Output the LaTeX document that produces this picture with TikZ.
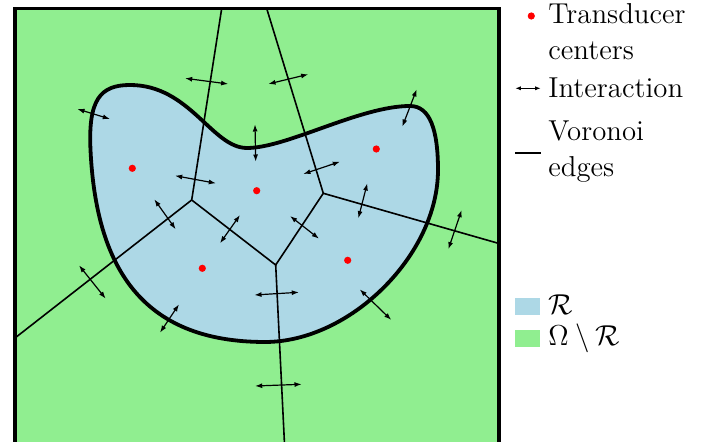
\documentclass[tikz,border=0pt]{standalone}
\usetikzlibrary{arrows.meta}
\definecolor{regblue}{HTML}{ADD8E6}
\definecolor{restgreen}{HTML}{90EE90}
\tikzset{
  border/.style={line width=1.8pt},
  bound/.style={line width=1.9pt, line join=round},
  vor/.style={line width=0.8pt},
  inter/.style={line width=0.6pt, {Latex[length=3.6pt,width=2.5pt]}-{Latex[length=3.6pt,width=2.5pt]}},
  leginter/.style={line width=0.55pt, {Latex[length=2.8pt,width=2.1pt]}-{Latex[length=2.8pt,width=2.1pt]}},
  tcenter/.style={circle, fill=red, inner sep=0pt, minimum size=3.6pt},
  legtext/.style={anchor=base west, inner sep=0pt, font=\fontsize{14.4}{18}\selectfont, align=left},
}
\begin{document}
\begin{tikzpicture}[x=0.5pt,y=-0.5pt]
\useasboundingbox (0,0) rectangle (718,442);
\begin{scope}
\clip (0,0) rectangle (718,442);
\fill[restgreen] (15,8.5) rectangle (499,444);
\def\regionpath{(90.5,150) .. controls (88.1,100) and (100,85) .. (130,85)
  .. controls (190,85) and (212,148) .. (247,148)
  .. controls (287,148) and (360,106) .. (410,106)
  .. controls (430,106) and (438,130) .. (438,170)
  .. controls (438,255) and (350,342) .. (265,342)
  .. controls (140,342) and (96,265) .. cycle}
\fill[regblue] \regionpath;
% Voronoi vertices and border ends
\coordinate (v1) at (191.7,200);
\coordinate (v2) at (323.3,193.3);
\coordinate (v3) at (275.7,265);
\coordinate (t1) at (221.7,8.5);
\coordinate (t2) at (266.7,8.5);
\coordinate (l1) at (15,338);
\coordinate (r1) at (499,243.5);
\coordinate (b1) at (284.5,444);
\draw[vor] (t1) -- (v1) -- (v3) -- (v2) -- (t2);
\draw[vor] (l1) -- (v1);
\draw[vor] (v2) -- (r1);
\draw[vor] (v3) -- (b1);
\draw[bound] \regionpath;
\draw[border] (15,8.5) rectangle (499,443.5);
\end{scope}
% transducer centers
\node[tcenter] (c1) at (132.3,168.3) {};
\node[tcenter] (c2) at (256.7,190.7) {};
\node[tcenter] (c3) at (202.3,268.3) {};
\node[tcenter] (c4) at (347.7,260.3) {};
\node[tcenter] (c5) at (376.3,149) {};
% interactions
\foreach \ax/\ay/\bx/\by in {
  185/78.3/228.3/84, 268.3/84/308.3/74.3, 77.3/109/110/119,
  255/124.3/255.7/161.7, 175/175.7/216/183.3, 303.3/174/340/161.7,
  154.3/199.3/175.7/229.3, 240/215/220/243.3, 290/216/319/238.7,
  367.3/183.3/358.3/218.3, 254.3/295/299/292.3, 359.7/289.3/391.3/320,
  416.7/89.3/402.3/126.7, 461.7/210/448.3/249.3, 79/265.3/105.7/298.7,
  179/304.3/160/332.7, 255/386/301.7/384.3}
  {\draw[inter] (\ax,\ay) -- (\bx,\by);}
% legend
\node[tcenter] (lc) at (531.3,16) {};
\node[legtext] (lt1) at (548,60) {Transducer\\centers};
\coordinate (li1) at (515.3,88.3);
\coordinate (li2) at (540.7,88.3);
\draw[leginter] (li1) -- (li2);
\node[legtext] (lt2) at (548,97.7) {Interaction};
\coordinate (lv1) at (515.3,153.3);
\coordinate (lv2) at (540.7,153.3);
\draw[vor] (lv1) -- (lv2);
\node[legtext] (lt3) at (548,177) {Voronoi\\edges};
\fill[regblue] (515.3,298.3) rectangle (539.7,315);
\node[legtext] (lt4) at (548,315) {$\mathcal{R}$};
\fill[restgreen] (515.3,330.3) rectangle (539.7,347);
\node[legtext] (lt5) at (548,346) {$\Omega\setminus\mathcal{R}$};
\end{tikzpicture}
\end{document}
